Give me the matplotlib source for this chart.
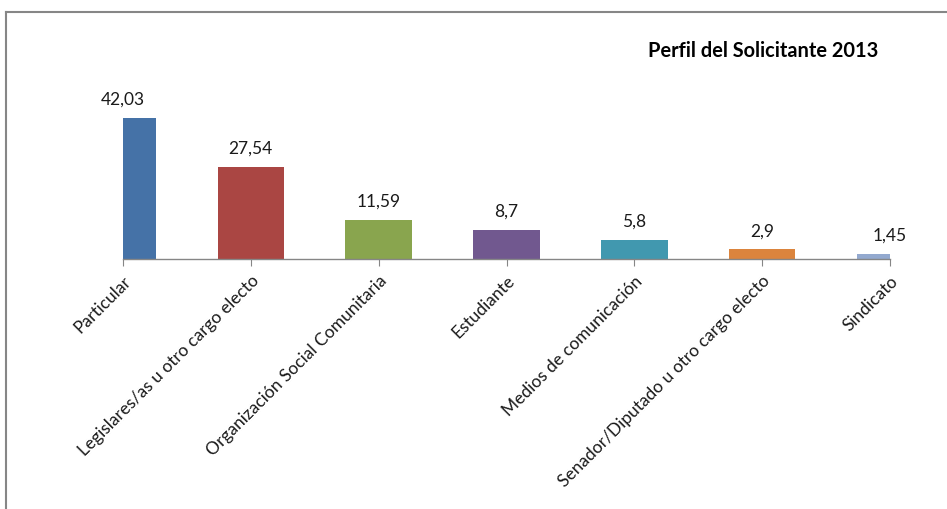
import matplotlib
matplotlib.use("Agg")
import matplotlib.pyplot as plt
from matplotlib.lines import Line2D

categories = ["Particular", "Legislares/as u otro cargo electo", "Organización Social Comunitaria",
              "Estudiante", "Medios de comunicación", "Senador/Diputado u otro cargo electo", "Sindicato"]
values = [42.03, 27.54, 11.59, 8.7, 5.8, 2.9, 1.45]
labels = ["42,03", "27,54", "11,59", "8,7", "5,8", "2,9", "1,45"]
colors = ["#4572A7", "#AA4643", "#89A54E", "#71588F", "#4198AF", "#DB843D", "#93A9CF"]

plt.rcParams['font.family'] = ['Lato', 'DejaVu Sans']

W, H = 947, 509
fig = plt.figure(figsize=(W/100, H/100), dpi=100)
ax = fig.add_axes([123/W, 1-259/H, (890-123)/W, (259-91.25)/H])

x = list(range(len(categories)))
ax.bar(x, values, width=0.52, color=colors, zorder=2)
ax.set_xlim(0, len(categories)-1)
ax.set_ylim(0, 50)

for xi, v, lab in zip(x, values, labels):
    ax.annotate(lab, (xi, v), xytext=(0, 13), textcoords="offset points",
                ha="center", va="center", fontsize=12.5, color="#1a1a1a", annotation_clip=False)

for s in ["top", "right", "left"]:
    ax.spines[s].set_visible(False)
ax.spines["bottom"].set_color("#868686")
ax.spines["bottom"].set_linewidth(1)
ax.set_yticks([])
ax.set_xticks(x)
ax.set_xticklabels(categories, rotation=45, ha="right", rotation_mode="anchor", fontsize=12.5, color="#1a1a1a")
ax.tick_params(axis="x", length=5, color="#868686", pad=5)

fig.text(878/W, 1-51/H, "Perfil del Solicitante 2013", ha="right", va="center",
         fontsize=14.4, fontweight="bold", color="#000000")

fig.add_artist(Line2D([6/W, 6/W], [0, 1-12/H], transform=fig.transFigure, color="#868686", lw=1.5))
fig.add_artist(Line2D([6/W, 1], [1-12/H, 1-12/H], transform=fig.transFigure, color="#868686", lw=1.5))

fig.savefig("out.png", dpi=100)
